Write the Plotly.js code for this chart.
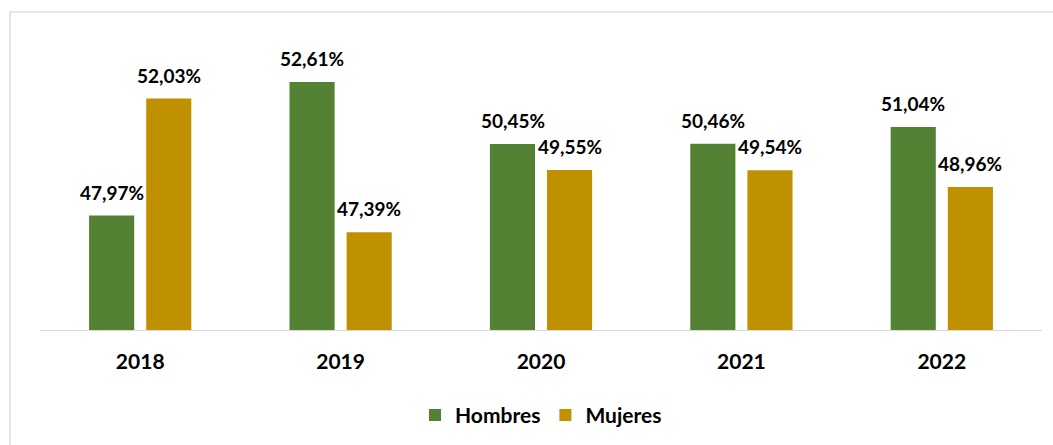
<!DOCTYPE html>
<html>
<head>
<meta charset="utf-8">
<script src="https://cdn.plot.ly/plotly-3.0.1.min.js"></script>
<style>html,body{margin:0;padding:0;background:#fff;}#chart{width:1053px;height:445px;}</style>
</head>
<body>
<div id="chart"></div>
<script>
const years = ['2018', '2019', '2020', '2021', '2022'];
const hombres = [47.97, 52.61, 50.45, 50.46, 51.04];
const mujeres = [52.03, 47.39, 49.55, 49.54, 48.96];
const seriesNames = ['Hombres', 'Mujeres'];

const FONT = 'Lato, "Liberation Sans", sans-serif';
const labelFont = {family: FONT, size: 19, color: '#000000', weight: 'bold'};

const traces = [
  {type: 'bar', name: seriesNames[0], x: years, y: hombres, marker: {color: '#548235'}, hoverinfo: 'none'},
  {type: 'bar', name: seriesNames[1], x: years, y: mujeres, marker: {color: '#BF9000'}, hoverinfo: 'none'}
];

function fmt(v) { return v.toFixed(2).replace('.', ',') + '%'; }
const annotations = [];
[hombres, mujeres].forEach((arr, s) => {
  arr.forEach((v, i) => {
    annotations.push({x: i, y: v, xref: 'x', yref: 'y', text: fmt(v),
      showarrow: false, xanchor: 'center', yanchor: 'bottom', xshift: s === 0 ? -28.5 : 28.5, yshift: 10,
      font: labelFont});
  });
});

const layout = {
  width: 1053, height: 445,
  margin: {l: 40, r: 11, t: 13, b: 114},
  paper_bgcolor: '#ffffff', plot_bgcolor: '#ffffff',
  barmode: 'group', bargap: 0.43, bargroupgap: 0.21,
  showlegend: true,
  legend: {orientation: 'h', x: 0.5, xanchor: 'center', y: -0.265, yanchor: 'middle',
           font: {family: FONT, size: 21, color: '#000000', weight: 'bold'}, itemwidth: 30, traceorder: 'normal'},
  xaxis: {type: 'category', categoryorder: 'array', categoryarray: years, range: [-0.5, years.length - 0.5],
          showline: true, linecolor: '#d9d9d9', linewidth: 1.3, showgrid: false, zeroline: false,
          ticks: '', ticklabelstandoff: 12, tickfont: {family: FONT, size: 21, color: '#000000', weight: 'bold'}},
  yaxis: {range: [44, 55], visible: false, showgrid: false, zeroline: false},
  annotations: annotations,
  shapes: [{type: 'rect', xref: 'paper', yref: 'paper', x0: -0.0299, x1: 1.2, y0: -0.6, y1: 1.0035,
            line: {color: '#d9d9d9', width: 1.3}, fillcolor: 'rgba(0,0,0,0)', layer: 'below'}]
};

Plotly.newPlot('chart', traces, layout, {displayModeBar: false, staticPlot: true});
</script>
</body>
</html>
